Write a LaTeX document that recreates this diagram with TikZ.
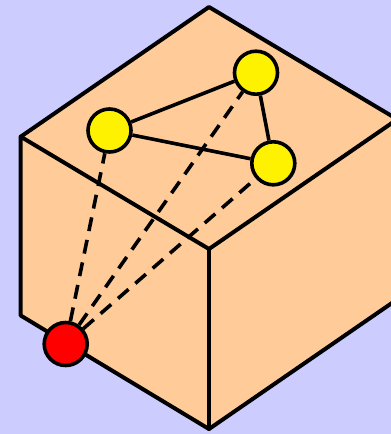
\documentclass[tikz,border=0pt]{standalone}
\definecolor{bgblue}{HTML}{CCCCFF}
\definecolor{cubefill}{HTML}{FFCC99}
\begin{document}
\begin{tikzpicture}[x=1pt,y=-1pt,
  edge/.style={line width=4pt,line join=round,line cap=round},
  dot/.style={circle,draw,line width=3.6pt,minimum size=43pt,inner sep=0pt},
  link/.style={line width=3.6pt},
  ray/.style={line width=3.6pt,dash pattern=on 14pt off 9pt}]
\useasboundingbox (0,0) rectangle (391,434);
\fill[bgblue] (0,0) rectangle (391,434);
\clip (0,0) rectangle (391,434);
\coordinate (T) at (209,7);
\coordinate (L) at (20.7,136.7);
\coordinate (F) at (209,249);
\coordinate (R) at (397.3,119.3);
\coordinate (LB) at (20.7,315.5);
\coordinate (FB) at (209,429);
\coordinate (RB) at (397.3,299.3);
\filldraw[edge,fill=cubefill] (T) -- (R) -- (RB) -- (FB) -- (LB) -- (L) -- cycle;
\draw[edge] (L) -- (F) -- (R);
\draw[edge] (F) -- (FB);
\node[dot,fill=yellow] (y1) at (109.5,130.5) {};
\node[dot,fill=yellow] (y2) at (256,72.7) {};
\node[dot,fill=yellow] (y3) at (273.3,163.3) {};
\node[dot,fill=red] (r) at (65.7,344) {};
\draw[ray] (r) -- (y1);
\draw[ray] (r) -- (y2);
\draw[ray] (r) -- (y3);
\draw[link] (y1) -- (y2);
\draw[link] (y1) -- (y3);
\draw[link] (y2) -- (y3);
\end{tikzpicture}
\end{document}
